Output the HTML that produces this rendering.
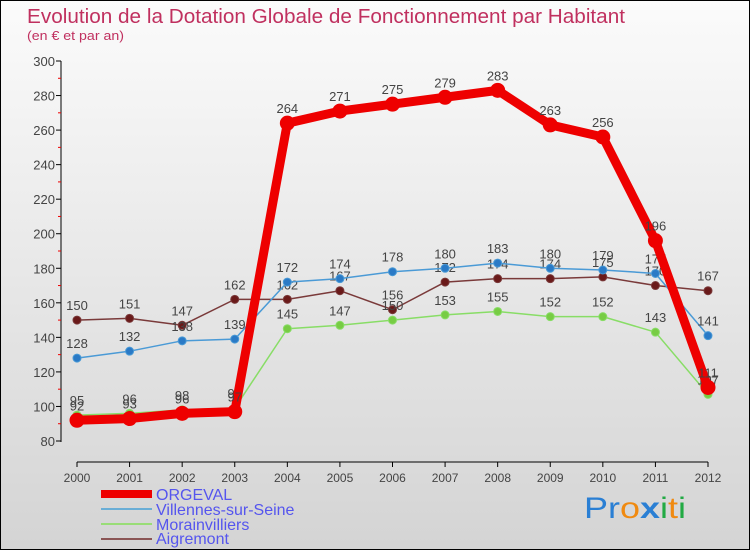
<!DOCTYPE html>
<html><head><meta charset="utf-8"><style>
body{margin:0}
#wrap{position:relative;width:748px;height:548px;border:1px solid #000;background:linear-gradient(#fbfbfb,#d4d4d4);overflow:hidden;font-family:"Liberation Sans",sans-serif}
</style></head><body>
<div id="wrap">
<svg id="chart" width="748" height="548">
<text x="26" y="22" font-size="20" fill="#c0305f" textLength="598" lengthAdjust="spacingAndGlyphs">Evolution de la Dotation Globale de Fonctionnement par Habitant</text>
<text x="26" y="39" font-size="13" fill="#c0305f" textLength="97" lengthAdjust="spacingAndGlyphs">(en € et par an)</text>
<g id="axes"></g><g id="series"></g>
<g>
<rect x="100" y="489" width="51" height="8" fill="#e00"/>
<text x="155" y="499" font-size="16" fill="#5555ee">ORGEVAL</text>
<rect x="100" y="507" width="51" height="2" fill="#6aaed6"/>
<text x="155" y="514" font-size="16" fill="#5555ee">Villennes-sur-Seine</text>
<rect x="100" y="522" width="51" height="2" fill="#99dd77"/>
<text x="155" y="529" font-size="16" fill="#5555ee">Morainvilliers</text>
<rect x="100" y="537" width="51" height="2" fill="#8a5555"/>
<text x="155" y="543" font-size="16" fill="#5555ee">Aigremont</text>
</g>
<g font-size="30" font-family="Liberation Sans, sans-serif">
<text x="583" y="517" textLength="102" lengthAdjust="spacingAndGlyphs"><tspan fill="#2a7fd4">Pr</tspan><tspan fill="#f08a10">o</tspan><tspan fill="#2a7fd4" font-weight="bold">x</tspan><tspan fill="#22aa44">i</tspan><tspan fill="#f08a10">t</tspan><tspan fill="#22aa44">i</tspan></text>
</g>
</svg></div>
<script>
const years=[2000,2001,2002,2003,2004,2005,2006,2007,2008,2009,2010,2011,2012];
const orgeval=[92,93,96,97,264,271,275,279,283,263,256,196,111];
const villennes=[128,132,138,139,172,174,178,180,183,180,179,177,141];
const morainvilliers=[95,96,98,99,145,147,150,153,155,152,152,143,107];
const aigremont=[150,151,147,162,162,167,156,172,174,174,175,170,167];
const yTicks=[80,100,120,140,160,180,200,220,240,260,280,300];
const NS="http://www.w3.org/2000/svg";
const X=i=>76+i*(707-76)/12;
const Y=v=>440-(v-80)*380/220;
function mk(t,a,p){const e=document.createElementNS(NS,t);for(const k in a)e.setAttribute(k,a[k]);p.appendChild(e);return e;}
const ax=document.getElementById('axes');
const yl=mk('line',{x1:60,y1:60,x2:60,y2:441,stroke:'#000'},ax);


const xl=mk('line',{x1:76,y1:461,x2:707,y2:461,stroke:'#000'},ax);


yTicks.forEach(v=>{mk('line',{x1:55,x2:60,y1:Y(v),y2:Y(v),stroke:'#000'},ax);
 const t=mk('text',{x:54,y:Y(v)+5,'font-size':13,fill:'#444','text-anchor':'end'},ax);t.textContent=v;
 
 
 if(v<300)mk('line',{x1:57,x2:60,y1:Y(v+10),y2:Y(v+10),stroke:'#e00'},ax);});
years.forEach((y,i)=>{mk('line',{x1:X(i),x2:X(i),y1:461,y2:466,stroke:'#000'},ax);
 const t=mk('text',{x:X(i),y:481,'font-size':12,fill:'#444','text-anchor':'middle'},ax);t.textContent=y;
 
 });
const sg=document.getElementById('series');
function series(d,name,color,w,r,dot){
 const g=mk('g',{},sg);
 
 
 mk('polyline',{points:d.map((v,i)=>X(i)+','+Y(v)).join(' '),fill:'none',stroke:color,'stroke-width':w,'stroke-linejoin':'round'},g);
 d.forEach((v,i)=>{const c=mk('circle',{cx:X(i),cy:Y(v),r:r,fill:dot,stroke:color,'stroke-width':1},g);
  
  
  const t=mk('text',{x:X(i),y:Y(v)-10,'font-size':13,fill:'#444','text-anchor':'middle'},g);t.textContent=v;
  
  });
}
series(aigremont,'aigremont','#7a3a3a',1.5,4,'#6a1a1a');
series(villennes,'villennes','#4a9ad6',1.5,4,'#2a7ac6');
series(morainvilliers,'morainvilliers','#88dd66',1.5,4,'#77cc44');
series(orgeval,'orgeval','#ee0000',9,7,'#ee0000');
</script>
</body></html>
